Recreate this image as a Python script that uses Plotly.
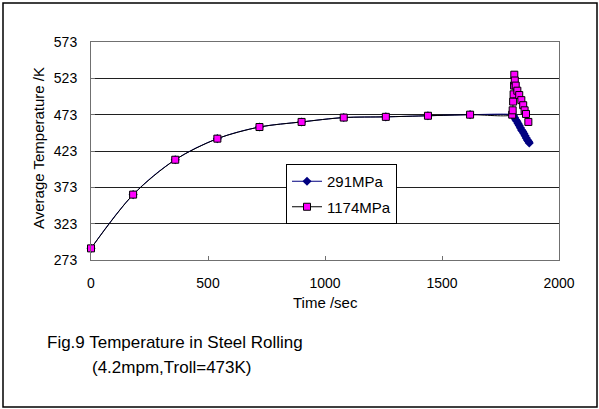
import plotly.graph_objects as go

# ---- data ----
time_main = [0, 180, 360, 540, 720, 900, 1080, 1260, 1440, 1620]
temp_main = [289, 363, 411, 440, 456, 463, 469, 470, 471.5, 473]

time_1174_roll = [1800, 1802, 1804, 1806, 1808, 1809, 1811, 1815, 1822, 1830, 1839, 1847, 1853, 1859, 1869]
temp_1174_roll = [473, 479, 491, 501, 513, 528, 520, 513, 506, 500, 493, 486, 479, 474, 463]

time_291_roll = [1800, 1805, 1810, 1815, 1820, 1825, 1830, 1835, 1840, 1845, 1850, 1855, 1860, 1865, 1870, 1873]
temp_291_roll = [473, 472, 469, 466, 464, 461, 458, 455, 452, 450, 447, 444, 441, 438, 436, 434]

series_names = ["291MPa", "1174MPa"]
x_ticks = [0, 500, 1000, 1500, 2000]
y_ticks = [273, 323, 373, 423, 473, 523, 573]

caption1 = "Fig.9 Temperature in Steel Rolling"
caption2 = "(4.2mpm,Troll=473K)"
x_title = "Time /sec"
y_title = "Average Temperature /K"

FONT = "Liberation Sans"

fig = go.Figure()
fig.add_trace(go.Scatter(
    x=time_main + time_291_roll, y=temp_main + temp_291_roll,
    name=series_names[0], mode="lines+markers",
    line=dict(color="#000080", width=1, shape="spline"),
    marker=dict(symbol="diamond", size=7, color="#000080"),
    cliponaxis=False, legendgroup="a",
))
fig.add_trace(go.Scatter(
    x=time_main + time_1174_roll, y=temp_main + temp_1174_roll,
    name=series_names[1], mode="lines+markers",
    line=dict(color="#000000", width=1, shape="spline", smoothing=0.8),
    marker=dict(symbol="square", size=7, color="#FF00FF", line=dict(color="#000000", width=1)),
    cliponaxis=False, legendgroup="b",
))

L, R, T, B = 91, 40, 42, 149
W, H = 599, 409
pw, ph = W - L - R, H - T - B

def px(xp):
    return (xp - L) / pw

def py(yp):
    return 1 - (yp - T) / ph

fig.update_layout(
    width=W, height=H,
    margin=dict(l=L, r=R, t=T, b=B),
    paper_bgcolor="white", plot_bgcolor="white",
    font=dict(family=FONT, color="black"),
    showlegend=True,
    legend=dict(
        x=px(286), y=py(164), xanchor="left", yanchor="top",
        bordercolor="black", borderwidth=1, bgcolor="white",
        font=dict(size=15, family=FONT, color="black"),
        tracegroupgap=3, traceorder="grouped",
    ),
    xaxis=dict(
        range=[0, 2000], tickvals=x_ticks, ticktext=[str(v) for v in x_ticks],
        showgrid=False, zeroline=False,
        showline=True, linecolor="#707070", linewidth=1, mirror=True,
        ticks="inside", ticklen=4, tickcolor="#707070",
        tickfont=dict(size=14, family=FONT, color="black"),
        ticklabelstandoff=10,
    ),
    yaxis=dict(
        range=[273, 573], tickvals=y_ticks, ticktext=[str(v) for v in y_ticks],
        showgrid=True, gridcolor="#202020", gridwidth=1, zeroline=False,
        showline=True, linecolor="#707070", linewidth=1, mirror=True,
        ticks="inside", ticklen=4, tickcolor="#707070",
        tickfont=dict(size=14, family=FONT, color="black"),
        ticklabelstandoff=10,
    ),
    annotations=[
        dict(text=x_title, xref="paper", yref="paper", x=px(325), y=py(302),
             xanchor="center", yanchor="middle", showarrow=False,
             font=dict(size=15, family=FONT, color="black")),
        dict(text=y_title, xref="paper", yref="paper", x=px(38), y=py(148),
             xanchor="center", yanchor="middle", showarrow=False, textangle=-90,
             font=dict(size=15, family=FONT, color="black")),
        dict(text=caption1, xref="paper", yref="paper", x=px(45), y=py(342),
             xanchor="left", yanchor="middle", showarrow=False,
             font=dict(size=17, family=FONT, color="black")),
        dict(text=caption2, xref="paper", yref="paper", x=px(90), y=py(367),
             xanchor="left", yanchor="middle", showarrow=False,
             font=dict(size=17, family=FONT, color="black")),
    ],
    shapes=[
        dict(type="rect", xref="paper", yref="paper",
             x0=px(3), x1=px(597), y0=py(407), y1=py(3),
             line=dict(color="black", width=1.5), layer="below"),
    ],
)

fig.write_html("out.html")
